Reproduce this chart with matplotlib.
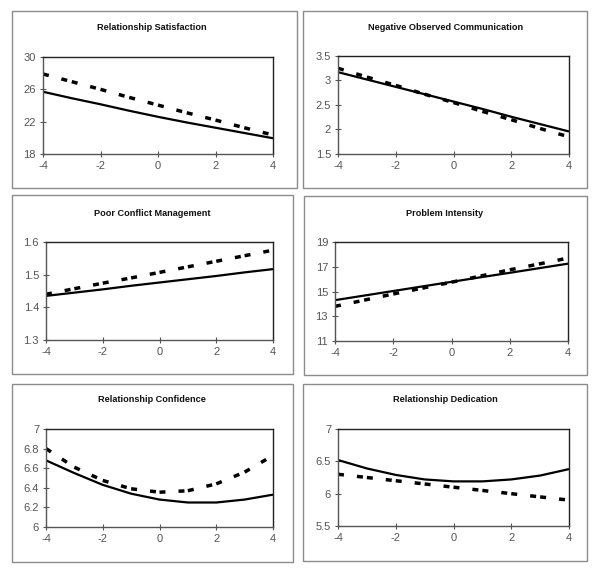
import matplotlib
matplotlib.use('Agg')
import matplotlib.pyplot as plt
from matplotlib.patches import Rectangle

plt.rcParams['font.family'] = ['Liberation Sans', 'DejaVu Sans']
plt.rcParams['lines.scale_dashes'] = False

W, H = 600, 572

x = [-4, -3, -2, -1, 0, 1, 2, 3, 4]
xticks = [-4, -2, 0, 2, 4]

titles = ['Relationship Satisfaction', 'Negative Observed Communication',
          'Poor Conflict Management', 'Problem Intensity',
          'Relationship Confidence', 'Relationship Dedication']

solid = [
    [25.7, 24.9, 24.15, 23.35, 22.6, 21.9, 21.25, 20.6, 19.95],
    [3.17, 3.02, 2.87, 2.72, 2.57, 2.42, 2.26, 2.11, 1.96],
    [1.435, 1.445, 1.455, 1.466, 1.476, 1.486, 1.496, 1.507, 1.517],
    [14.3, 14.67, 15.04, 15.41, 15.78, 16.15, 16.51, 16.88, 17.25],
    [6.68, 6.55, 6.43, 6.34, 6.28, 6.25, 6.25, 6.28, 6.33],
    [6.52, 6.39, 6.29, 6.22, 6.19, 6.19, 6.22, 6.28, 6.38],
]
dashed = [
    [27.9, 26.95, 26.0, 25.0, 24.05, 23.1, 22.2, 21.25, 20.35],
    [3.25, 3.07, 2.90, 2.72, 2.55, 2.37, 2.20, 2.02, 1.85],
    [1.44, 1.457, 1.474, 1.49, 1.507, 1.524, 1.541, 1.558, 1.575],
    [13.8, 14.3, 14.8, 15.27, 15.75, 16.25, 16.75, 17.22, 17.7],
    [6.80, 6.61, 6.475, 6.39, 6.355, 6.37, 6.44, 6.56, 6.73],
    [6.30, 6.25, 6.20, 6.15, 6.10, 6.05, 6.00, 5.95, 5.90],
]
yticks = [
    [18, 22, 26, 30],
    [1.5, 2, 2.5, 3, 3.5],
    [1.3, 1.4, 1.5, 1.6],
    [11, 13, 15, 17, 19],
    [6, 6.2, 6.4, 6.6, 6.8, 7],
    [5.5, 6, 6.5, 7],
]
ylabels = [
    ['18', '22', '26', '30'],
    ['1.5', '2', '2.5', '3', '3.5'],
    ['1.3', '1.4', '1.5', '1.6'],
    ['11', '13', '15', '17', '19'],
    ['6', '6.2', '6.4', '6.6', '6.8', '7'],
    ['5.5', '6', '6.5', '7'],
]

# pixel boxes: outer frame, plot area, title centre
frames = [(12, 11, 297, 188), (303, 11, 587, 188),
          (12, 195, 293, 374), (304, 196, 587, 375),
          (12, 384, 293, 562), (303, 384, 587, 561)]
plots = [(43, 57, 273, 154), (338, 56, 569, 154),
         (46, 242, 273, 340), (335, 242, 568, 341),
         (46, 429, 273, 527), (338, 429, 569, 526)]
title_pos = [(152, 27), (446, 27), (152, 213), (445, 213), (152, 399), (445, 399)]


def fx(px):
    return px / W


def fy(py):
    return 1 - py / H


fig = plt.figure(figsize=(6, 5.72), dpi=100)

for i in range(6):
    l, t, r, b = frames[i]
    fig.patches.append(Rectangle((fx(l), fy(b)), fx(r) - fx(l), fy(t) - fy(b),
                                 transform=fig.transFigure, fill=False,
                                 edgecolor='#8c8c8c', linewidth=1.0))
    l, t, r, b = plots[i]
    ax = fig.add_axes([fx(l), fy(b), fx(r) - fx(l), fy(t) - fy(b)])
    ax.plot(x, solid[i], color='black', linewidth=1.6, solid_capstyle='butt')
    for k in range(len(x) - 1):
        ax.plot(x[k:k + 2], dashed[i][k:k + 2], color='black', linewidth=2.5,
                dashes=(4.3, 9.4), dash_capstyle='butt')
    ax.set_xlim(-4, 4)
    ax.set_ylim(yticks[i][0], yticks[i][-1])
    ax.set_xticks(xticks)
    ax.set_xticklabels([str(v) for v in xticks])
    ax.set_yticks(yticks[i])
    ax.set_yticklabels(ylabels[i])
    ax.tick_params(direction='inout', length=4, width=0.8, color='#555555',
                   labelsize=8, labelcolor='#555555', pad=3)
    for s in ['left', 'bottom']:
        ax.spines[s].set_color('#555555')
    for s in ['top', 'right']:
        ax.spines[s].set_color('#222222')
    for s in ax.spines.values():
        s.set_linewidth(1.0)
    tx, ty = title_pos[i]
    fig.text(fx(tx), fy(ty), titles[i], ha='center', va='center',
             fontsize=6.6, fontweight='bold', color='#111111')

fig.savefig('out.png', dpi=100)
